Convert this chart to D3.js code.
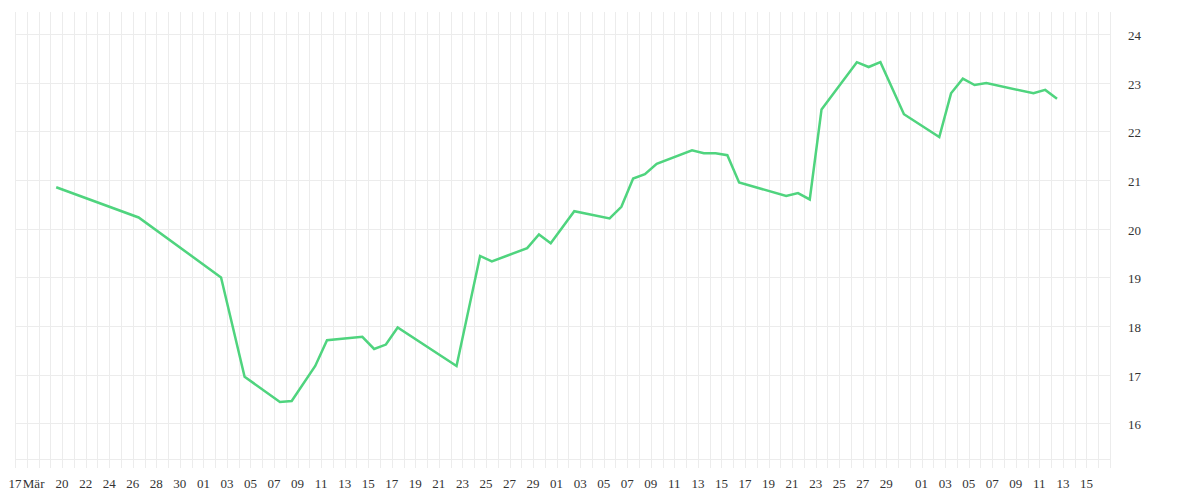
<!DOCTYPE html>
<html>
<head>
<meta charset="utf-8">
<script src="https://cdn.jsdelivr.net/npm/d3@7"></script>
<style>
  html, body { margin: 0; padding: 0; background: #fff; }
  svg { display: block; }
</style>
</head>
<body>
<svg id="chart" width="1200" height="500"></svg>
<script>
// ---- data ----
const dates = ["2024-03-19","2024-03-26","2024-04-02","2024-04-04","2024-04-07","2024-04-08","2024-04-10","2024-04-11","2024-04-14","2024-04-15","2024-04-16","2024-04-17","2024-04-22","2024-04-24","2024-04-25","2024-04-28","2024-04-29","2024-04-30","2024-05-02","2024-05-05","2024-05-06","2024-05-07","2024-05-08","2024-05-09","2024-05-12","2024-05-13","2024-05-14","2024-05-15","2024-05-16","2024-05-20","2024-05-21","2024-05-22","2024-05-23","2024-05-26","2024-05-27","2024-05-28","2024-05-30","2024-06-02","2024-06-03","2024-06-04","2024-06-05","2024-06-06","2024-06-10","2024-06-11","2024-06-12"];
const values = [20.85,20.23,19.0,16.96,16.44,16.46,17.18,17.71,17.78,17.53,17.62,17.97,17.18,19.44,19.33,19.60,19.88,19.70,20.36,20.21,20.45,21.03,21.12,21.33,21.61,21.55,21.55,21.51,20.95,20.67,20.73,20.60,22.45,23.42,23.32,23.42,22.35,21.88,22.78,23.08,22.95,22.99,22.78,22.85,22.67];

const xTickDates = ["2024-03-16T00:00","2024-03-17T14:00","2024-03-20T00:00","2024-03-22T00:00","2024-03-24T00:00","2024-03-26T00:00","2024-03-28T00:00","2024-03-30T00:00",
  "2024-04-01T00:00","2024-04-03T00:00","2024-04-05T00:00","2024-04-07T00:00","2024-04-09T00:00","2024-04-11T00:00","2024-04-13T00:00","2024-04-15T00:00","2024-04-17T00:00","2024-04-19T00:00","2024-04-21T00:00","2024-04-23T00:00","2024-04-25T00:00","2024-04-27T00:00","2024-04-29T00:00",
  "2024-05-01T00:00","2024-05-03T00:00","2024-05-05T00:00","2024-05-07T00:00","2024-05-09T00:00","2024-05-11T00:00","2024-05-13T00:00","2024-05-15T00:00","2024-05-17T00:00","2024-05-19T00:00","2024-05-21T00:00","2024-05-23T00:00","2024-05-25T00:00","2024-05-27T00:00","2024-05-29T00:00",
  "2024-06-01T00:00","2024-06-03T00:00","2024-06-05T00:00","2024-06-07T00:00","2024-06-09T00:00","2024-06-11T00:00","2024-06-13T00:00","2024-06-15T00:00"];
const xTickLabels = ["17","Mär","20","22","24","26","28","30",
  "01","03","05","07","09","11","13","15","17","19","21","23","25","27","29",
  "01","03","05","07","09","11","13","15","17","19","21","23","25","27","29",
  "01","03","05","07","09","11","13","15"];
const yTicks = [16,17,18,19,20,21,22,23,24];

// ---- chart ----
(function () {
  const parseDay = d3.utcParse("%Y-%m-%d");
  const parseTick = d3.utcParse("%Y-%m-%dT%H:%M");
  const data = dates.map((d, i) => ({ date: d3.utcHour.offset(parseDay(d), 12), value: values[i] }));

  const mLeft = 15, mRight = 1110, mTop = 12, mBottom = 459;
  const x = d3.scaleUtc()
    .domain([parseDay("2024-03-16"), parseDay("2024-06-17")])
    .range([mLeft, mRight]);
  const y = d3.scaleLinear().domain([15.27, 24.45]).range([mBottom, mTop]);

  const svg = d3.select("#chart");
  const grid = svg.append("g");

  const days = d3.utcDay.range(x.domain()[0], d3.utcDay.offset(x.domain()[1], 1));
  grid.selectAll("line.v").data(days).join("line")
    .attr("class", "v")
    .attr("x1", d => Math.round(x(d)) + 0.5).attr("x2", d => Math.round(x(d)) + 0.5)
    .attr("y1", mTop).attr("y2", 468)
    .attr("stroke", "#ececec").attr("stroke-width", 1);

  grid.selectAll("line.h").data(yTicks).join("line")
    .attr("class", "h")
    .attr("x1", mLeft).attr("x2", mRight)
    .attr("y1", d => Math.round(y(d)) + 0.5).attr("y2", d => Math.round(y(d)) + 0.5)
    .attr("stroke", "#ececec").attr("stroke-width", 1);

  grid.append("line")
    .attr("x1", mLeft).attr("x2", mRight)
    .attr("y1", mBottom + 0.5).attr("y2", mBottom + 0.5)
    .attr("stroke", "#ececec");

  const line = d3.line().x(d => x(d.date)).y(d => y(d.value));
  svg.append("path").datum(data)
    .attr("d", line)
    .attr("fill", "none")
    .attr("stroke", "#4fd47e")
    .attr("stroke-width", 2.5)
    .attr("stroke-linejoin", "miter");

  svg.append("g").selectAll("text").data(yTicks).join("text")
    .attr("x", 1128).attr("y", d => y(d) + 6)
    .attr("font-family", "Liberation Serif, serif")
    .attr("font-size", 13).attr("fill", "#333")
    .text(d => d);

  svg.append("g").selectAll("text").data(xTickDates).join("text")
    .attr("x", d => x(parseTick(d)))
    .attr("y", 487.5)
    .attr("text-anchor", "middle")
    .attr("font-family", "Liberation Serif, serif")
    .attr("font-size", 13).attr("fill", "#333")
    .text((d, i) => xTickLabels[i]);
})();
</script>
</body>
</html>
